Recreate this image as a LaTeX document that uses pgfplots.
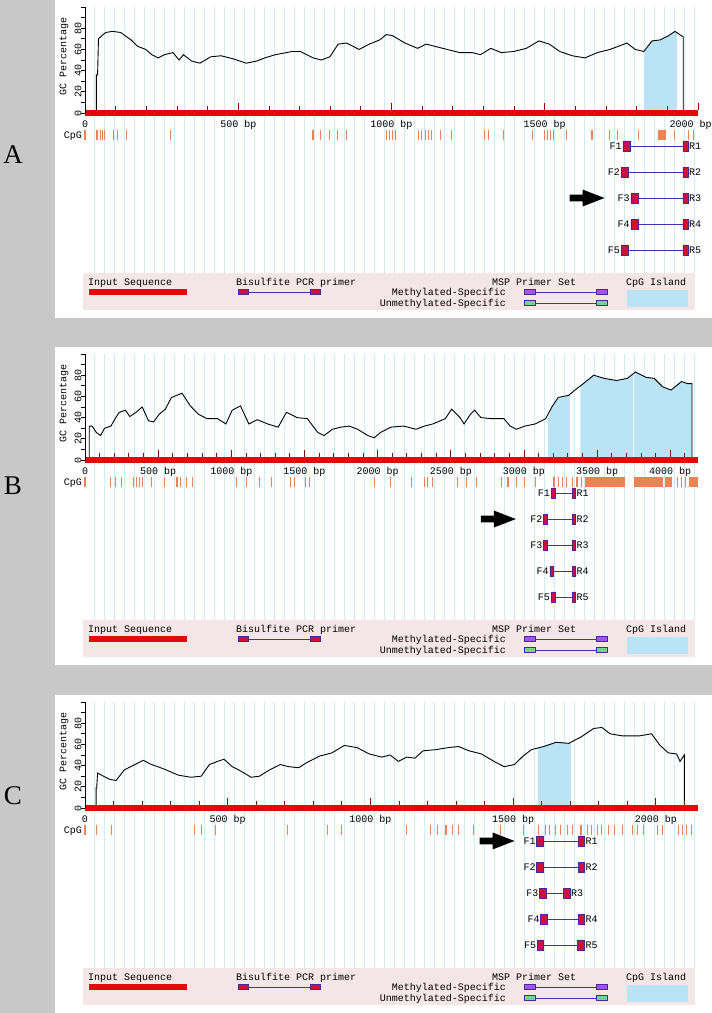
\documentclass[border=0pt]{standalone}
\usepackage{pgfplots}
\pgfplotsset{compat=1.18}
\usepackage{pgfplotstable}
\usepackage{fontspec}
\setmainfont{Liberation Sans}
\newfontfamily\mono{Liberation Mono}
\newfontfamily\letterfont{Liberation Serif}

\definecolor{bggray}{RGB}{200,200,200}
\definecolor{gridc}{RGB}{206,236,244}
\definecolor{seqred}{RGB}{228,8,8}
\definecolor{tickred}{RGB}{150,0,0}
\definecolor{cpgc}{RGB}{238,130,85}
\definecolor{island}{RGB}{186,228,246}
\definecolor{pfill}{RGB}{205,16,60}
\definecolor{pborder}{RGB}{70,40,150}
\definecolor{pline}{RGB}{60,50,190}
\definecolor{legbg}{RGB}{244,230,230}
\definecolor{methc}{RGB}{165,85,235}
\definecolor{unmethc}{RGB}{110,215,150}

\newcommand{\lab}{\mono\fontsize{10}{12}\selectfont}

% GC percentage (bp, %)
\pgfplotstableread{
bp gc
37 0
37 36
41 36
44 70
55 73
68 76
89 77
116 76
150 69
171 63
198 60
218 55
239 52
259 55
287 57
307 50
321 55
348 49
375 47
410 53
444 54
485 51
526 47
560 49
587 52
621 55
676 58
703 58
744 52
771 50
799 53
826 65
853 66
894 60
928 65
962 69
983 74
1003 73
1044 66
1085 61
1113 65
1140 63
1181 60
1222 57
1263 57
1290 55
1324 61
1358 57
1399 58
1440 61
1481 68
1515 65
1549 58
1590 54
1631 52
1672 57
1713 60
1741 63
1768 66
1795 60
1823 58
1850 68
1877 69
1904 73
1925 77
1945 73
1952 72
1952 0
}\gcA

\pgfplotstableread{
bp gc
29 0
29 32
49 32
77 26
106 23
134 30
177 32
206 39
234 45
277 47
306 41
349 45
391 50
434 37
469 36
506 43
549 48
591 59
663 63
720 51
777 43
834 39
906 39
963 34
1006 47
1063 51
1120 34
1177 38
1249 34
1320 31
1377 45
1449 40
1520 39
1591 26
1634 23
1691 29
1749 31
1806 32
1863 29
1934 23
1977 21
2020 26
2091 31
2177 32
2263 29
2320 32
2377 34
2463 39
2506 48
2563 40
2591 34
2634 43
2663 47
2706 40
2777 39
2863 39
2906 32
2949 29
3006 32
3077 34
3149 39
3191 50
3234 59
3306 61
3349 66
3406 72
3477 80
3549 77
3634 75
3706 77
3763 83
3834 78
3891 77
3949 69
4006 66
4077 74
4120 72
4149 72
4149 0
}\gcB

\pgfplotstableread{
bp gc
39 0
39 19
41 19
44 33
65 30
87 27
109 26
138 36
175 41
204 45
233 41
255 39
284 36
327 31
371 29
407 30
436 41
465 44
487 46
516 39
545 35
582 29
611 30
647 36
684 41
713 39
749 38
778 43
822 49
865 52
909 59
953 57
996 51
1040 48
1069 50
1098 44
1127 48
1156 47
1185 54
1229 55
1273 57
1309 58
1345 54
1389 51
1433 44
1469 39
1505 41
1535 49
1564 55
1607 58
1651 62
1695 61
1738 67
1782 75
1811 76
1840 70
1884 68
1942 68
1985 70
2015 59
2044 52
2073 51
2085 44
2100 50
2100 0
}\gcC

\pgfplotsset{panel/.style={anchor=north west, scale only axis, width=657pt, height=318pt,
  ymin=-193.4, ymax=106.6, axis lines=none, ticks=none, clip=false},
  islandfill/.style={fill=island, draw=none},
  cpgstyle/.style={cpgc, only marks, mark=|, mark size=5pt, mark options={solid, cpgc, line width=1.1pt}}}

% y axis of the GC plot, drawn at 0 bp
\newcommand{\gcaxis}{%
  \draw[black, line width=0.8pt] (axis cs:0,0) -- (axis cs:0,100);
  \pgfplotsinvokeforeach{0,10,...,100}{\draw[black, line width=0.7pt] (axis cs:0,##1) -- ++(-4pt,0pt);}
  \pgfplotsinvokeforeach{0,20,...,80}{\node[rotate=90, font=\lab, inner sep=0pt] at ([xshift=-7pt]axis cs:0,##1) {##1};}
  \node[rotate=90, font=\lab, inner sep=0pt] at ([xshift=-21pt]axis cs:0,53) {GC Percentage};
  \node[anchor=base east, font=\lab, inner sep=0pt] at ([xshift=-3pt]axis cs:0,-24.1) {CpG};
}
\newcommand{\xmarks}[2]{%
  \pgfplotsinvokeforeach{#1}{\draw[tickred, line width=0.8pt] (axis cs:##1,2.8) -- ++(0pt,4pt);}
  \pgfplotsinvokeforeach{#2}{\draw[tickred, line width=0.8pt] (axis cs:##1,2.8) -- ++(0pt,7pt);}
}
\newcommand{\xlab}[2]{\node[anchor=base, font=\lab, inner sep=0pt] at (axis cs:#1,-13.7) {#2};}
% primer pair: yc, ytop, ybot, Fstart, Fend, Rstart, Rend, index
\newcommand{\primer}[8]{%
  \addplot[pline, line width=0.9pt] coordinates {(#5,#1) (#6,#1)};
  \addplot[draw=pborder, fill=pfill, line width=0.6pt] coordinates {(#4,#2) (#5,#2) (#5,#3) (#4,#3) (#4,#2)};
  \addplot[draw=pborder, fill=pfill, line width=0.6pt] coordinates {(#6,#2) (#7,#2) (#7,#3) (#6,#3) (#6,#2)};
  \node[anchor=east, font=\lab, inner sep=1pt] at (axis cs:#4,#1) {F#8};
  \node[anchor=west, font=\lab, inner sep=1pt] at (axis cs:#7,#1) {R#8};
}
\newcommand{\arrowat}[2]{%
  \fill[black] (axis cs:#1,#2) -- ++(-22pt,8.5pt) -- ++(0pt,-5.2pt) -- ++(-13pt,0pt) -- ++(0pt,-6.6pt) -- ++(13pt,0pt) -- ++(0pt,-5.2pt) -- cycle;
}

% white panel, grid and legend box (pixel coordinates, y downwards)
\newcommand{\panelframe}[1]{%
 \begin{scope}[shift={(0,#1)}]
  \fill[white] (55,0) rectangle (712,318);
  \foreach \i in {0,...,60} \draw[gridc, line width=0.9pt] ({94+10*\i},7) -- ({94+10*\i},273);
  \fill[legbg] (83,273) rectangle (695,310);
  \node[anchor=base west, font=\lab, inner sep=0pt] at (88,285) {Input Sequence};
  \fill[seqred] (89,289) rectangle (187,294.5);
  \node[anchor=base west, font=\lab, inner sep=0pt] at (236,285) {Bisulfite PCR primer};
  \draw[pline, line width=0.9pt] (248,292) -- (310,292);
  \filldraw[fill=pfill, draw=pborder, line width=0.6pt] (238,289.5) rectangle (248,294.5);
  \filldraw[fill=pfill, draw=pborder, line width=0.6pt] (310,289.5) rectangle (320,294.5);
  \node[anchor=base west, font=\lab, inner sep=0pt] at (492,285) {MSP Primer Set};
  \node[anchor=base east, font=\lab, inner sep=0pt] at (506,295.3) {Methylated-Specific};
  \node[anchor=base east, font=\lab, inner sep=0pt] at (506,306.5) {Unmethylated-Specific};
  \draw[pline, line width=0.9pt] (535,292) -- (596,292);
  \filldraw[fill=methc, draw=pborder, line width=0.6pt] (524,289.5) rectangle (535,294.5);
  \filldraw[fill=methc, draw=pborder, line width=0.6pt] (596,289.5) rectangle (607,294.5);
  \draw[pline, line width=0.9pt] (535,303) -- (596,303);
  \filldraw[fill=unmethc, draw=pborder, line width=0.6pt] (524,300.5) rectangle (535,305.5);
  \filldraw[fill=unmethc, draw=pborder, line width=0.6pt] (596,300.5) rectangle (607,305.5);
  \node[anchor=base west, font=\lab, inner sep=0pt] at (626,285) {CpG Island};
  \fill[island] (627,290) rectangle (688,307);
 \end{scope}}

\begin{document}
\begin{tikzpicture}[x=1pt, y=-1pt]
\fill[bggray] (0,0) rectangle (712,1013);
\panelframe{0}
\panelframe{347}
\panelframe{695}
\node[font=\letterfont\fontsize{27}{30}\selectfont] at (13,155) {A};
\node[font=\letterfont\fontsize{27}{30}\selectfont] at (13,486) {B};
\node[font=\letterfont\fontsize{27}{30}\selectfont] at (13,796) {C};

% ---------------- A ----------------
\begin{axis}[panel, at={(55pt,0pt)}, xmin=-97.9, xmax=2045.7]
  % CpG island (GC curve between its ends)
  \addplot[islandfill] coordinates {(1824,0) (1824,58) (1850,68) (1877,69) (1904,73) (1925,77) (1931,76) (1931,0)};
  \addplot[black, line width=0.9pt] table {\gcA};
  \addplot[seqred, line width=5.5pt] coordinates {(0,0) (2000,0)};
  \gcaxis
  \xmarks{100,200,...,2000}{500,1000,1500,2000}
  \xlab{0}{0}\xlab{500}{500 bp}\xlab{1000}{1000 bp}\xlab{1500}{1500 bp}\xlab{1976}{2000 bp}
  \addplot[cpgstyle] coordinates {(0,-20.8) (39,-20.8) (50,-20.8) (58,-20.8) (65,-20.8) (94,-20.8) (107,-20.8) (135,-20.8) (278,-20.8) (744,-20.8) (769,-20.8) (799,-20.8) (823,-20.8) (853,-20.8) (983,-20.8) (993,-20.8) (1003,-20.8) (1014,-20.8) (1088,-20.8) (1099,-20.8) (1110,-20.8) (1121,-20.8) (1130,-20.8) (1160,-20.8) (1195,-20.8) (1304,-20.8) (1317,-20.8) (1365,-20.8) (1461,-20.8) (1498,-20.8) (1509,-20.8) (1519,-20.8) (1530,-20.8) (1570,-20.8) (1654,-20.8) (1711,-20.8) (1736,-20.8) (1807,-20.8) (1922,-20.8) (1968,-20.8) (1984,-20.8)};
  \addplot[fill=cpgc, draw=none] coordinates {(1870,-16) (1896,-16) (1896,-25.5) (1870,-25.5)};
  \primer{-31.1}{-26.4}{-35.8}{1755}{1778}{1951}{1967}{1}
  \primer{-55.7}{-51.0}{-60.4}{1749}{1772}{1951}{1967}{2}
  \primer{-80.2}{-75.5}{-84.9}{1781}{1804}{1951}{1967}{3}
  \primer{-104.7}{-100.0}{-109.4}{1781}{1804}{1951}{1967}{4}
  \primer{-129.2}{-124.5}{-133.9}{1749}{1772}{1951}{1967}{5}
  \arrowat{1695}{-80.2}
\end{axis}

% ---------------- B ----------------
\begin{axis}[panel, at={(55pt,-347pt)}, xmin=-205.1, xmax=4285.7]
  \addplot[islandfill] coordinates {(3163,0) (3163,38) (3191,50) (3234,59) (3306,61) (3314,62) (3314,0)};
  \addplot[islandfill] coordinates {(3386,0) (3386,70) (3406,72) (3477,80) (3549,77) (3634,75) (3706,77) (3749,81) (3749,0)};
  \addplot[islandfill] coordinates {(3757,0) (3757,82) (3763,83) (3834,78) (3891,77) (3949,69) (4006,66) (4077,74) (4120,72) (4149,72) (4149,0)};
  \addplot[black, line width=0.9pt] table {\gcB};
  \addplot[seqred, line width=5.5pt] coordinates {(0,0) (4190,0)};
  \gcaxis
  \xmarks{100,200,...,4100}{500,1000,...,4000}
  \xlab{0}{0}\xlab{500}{500 bp}\xlab{1000}{1000 bp}\xlab{1500}{1500 bp}\xlab{2000}{2000 bp}
  \xlab{2500}{2500 bp}\xlab{3000}{3000 bp}\xlab{3500}{3500 bp}\xlab{4000}{4000 bp}
  \addplot[cpgstyle] coordinates {(0,-20.8) (6,-20.8) (177,-20.8) (206,-20.8) (249,-20.8) (334,-20.8) (354,-20.8) (371,-20.8) (391,-20.8) (457,-20.8) (543,-20.8) (629,-20.8) (651,-20.8) (691,-20.8) (734,-20.8) (1034,-20.8) (1106,-20.8) (1191,-20.8) (1277,-20.8) (1406,-20.8) (1434,-20.8) (1506,-20.8) (1534,-20.8) (1977,-20.8) (2091,-20.8) (2234,-20.8) (2320,-20.8) (2343,-20.8) (2377,-20.8) (2549,-20.8) (2606,-20.8) (2677,-20.8) (2849,-20.8) (2891,-20.8) (2949,-20.8) (3006,-20.8) (3077,-20.8) (3206,-20.8) (3234,-20.8) (3263,-20.8) (3291,-20.8) (3334,-20.8) (3363,-20.8) (3391,-20.8) (4049,-20.8) (4077,-20.8) (4106,-20.8)};
  \addplot[fill=cpgc, draw=none] coordinates {(3420,-16) (3690,-16) (3690,-25.5) (3420,-25.5)};
  \addplot[fill=cpgc, draw=none] coordinates {(3750,-16) (3950,-16) (3950,-25.5) (3750,-25.5)};
  \addplot[fill=cpgc, draw=none] coordinates {(3965,-16) (4010,-16) (4010,-25.5) (3965,-25.5)};
  \addplot[fill=cpgc, draw=none] coordinates {(4130,-16) (4190,-16) (4190,-25.5) (4130,-25.5)};
  \primer{-31.1}{-26.4}{-35.8}{3186}{3213}{3330}{3352}{1}
  \primer{-55.7}{-51.0}{-60.4}{3134}{3161}{3330}{3352}{2}
  \primer{-80.2}{-75.5}{-84.9}{3134}{3161}{3330}{3352}{3}
  \primer{-104.7}{-100.0}{-109.4}{3177}{3204}{3330}{3352}{4}
  \primer{-129.2}{-124.5}{-133.9}{3186}{3213}{3330}{3352}{5}
  \arrowat{2945}{-55.7}
\end{axis}

% ---------------- C ----------------
\begin{axis}[panel, at={(55pt,-695pt)}, xmin=-105.1, xmax=2197]
  \addplot[islandfill] coordinates {(1587,0) (1587,57) (1607,58) (1651,62) (1695,61) (1703,62) (1703,0)};
  \addplot[black, line width=0.9pt] table {\gcC};
  \addplot[seqred, line width=5.5pt] coordinates {(0,0) (2148,0)};
  \gcaxis
  \xmarks{100,200,...,2100}{500,1000,1500,2000}
  \xlab{0}{0}\xlab{500}{500 bp}\xlab{1000}{1000 bp}\xlab{1500}{1500 bp}\xlab{2000}{2000 bp}
  \addplot[cpgstyle] coordinates {(0,-20.8) (39,-20.8) (92,-20.8) (385,-20.8) (407,-20.8) (458,-20.8) (708,-20.8) (851,-20.8) (899,-20.8) (1127,-20.8) (1212,-20.8) (1236,-20.8) (1265,-20.8) (1287,-20.8) (1309,-20.8) (1360,-20.8) (1455,-20.8) (1535,-20.8) (1590,-20.8) (1615,-20.8) (1629,-20.8) (1648,-20.8) (1665,-20.8) (1692,-20.8) (1709,-20.8) (1738,-20.8) (1760,-20.8) (1775,-20.8) (1796,-20.8) (1811,-20.8) (1833,-20.8) (1855,-20.8) (1884,-20.8) (1917,-20.8) (1935,-20.8) (1956,-20.8) (2007,-20.8) (2022,-20.8) (2080,-20.8) (2095,-20.8) (2109,-20.8) (2124,-20.8)};
  \primer{-31.1}{-26.4}{-35.8}{1583}{1605}{1728}{1750}{1}
  \primer{-55.7}{-51.0}{-60.4}{1583}{1605}{1728}{1750}{2}
  \primer{-80.2}{-75.5}{-84.9}{1593}{1615}{1677}{1699}{3}
  \primer{-104.7}{-100.0}{-109.4}{1597}{1619}{1728}{1750}{4}
  \primer{-129.2}{-124.5}{-133.9}{1585}{1607}{1725}{1750}{5}
  \arrowat{1505}{-31.1}
\end{axis}

\pgfresetboundingbox
\useasboundingbox (0,0) rectangle (712,1013);
\end{tikzpicture}
\end{document}
